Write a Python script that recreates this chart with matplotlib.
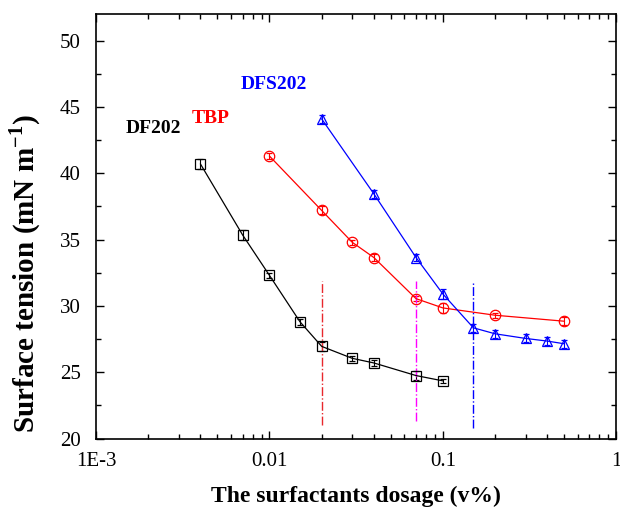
import numpy as np
import matplotlib
matplotlib.use("Agg")
from matplotlib import pyplot as plt
from matplotlib.ticker import FixedLocator, FixedFormatter, LogLocator, NullFormatter, MultipleLocator

# data
df202_x = [0.004, 0.007, 0.01, 0.015, 0.02, 0.03, 0.04, 0.07, 0.1]
df202_y = [40.7, 35.35, 32.3, 28.8, 26.95, 26.05, 25.7, 24.75, 24.35]
df202_err = [0.35, 0.35, 0.2, 0.2, 0.35, 0.2, 0.2, 0.35, 0.15]

tbp_x = [0.01, 0.02, 0.03, 0.04, 0.07, 0.1, 0.2, 0.5]
tbp_y = [41.3, 37.2, 34.8, 33.65, 30.55, 29.85, 29.3, 28.85]
tbp_err = [0.2, 0.3, 0.2, 0.25, 0.2, 0.4, 0.2, 0.3]

dfs202_x = [0.02, 0.04, 0.07, 0.1, 0.15, 0.2, 0.3, 0.4, 0.5]
dfs202_y = [44.1, 38.45, 33.65, 30.9, 28.35, 27.9, 27.55, 27.35, 27.15]
dfs202_err = [0.3, 0.3, 0.25, 0.35, 0.3, 0.3, 0.3, 0.3, 0.3]

# dash-dot markers of the break points: x, ymin, ymax, colour
cmc_x = [0.02, 0.07, 0.15]
cmc_lo = [21.0, 21.3, 20.8]
cmc_hi = [31.9, 31.9, 31.7]
cmc_col = ["#e8282d", "#ff00ff", "#0000ff"]

xticks = [0.001, 0.01, 0.1, 1]
xtick_labels = ["1E-3", "0.01", "0.1", "1"]

plt.rcParams["font.family"] = ["Liberation Serif", "DejaVu Serif"]
plt.rcParams["mathtext.fontset"] = "custom"
plt.rcParams["mathtext.rm"] = "Liberation Serif"
plt.rcParams["mathtext.bf"] = "Liberation Serif:bold"


def main():
	fig = plt.figure(figsize=(6.2, 5.07), dpi=100)
	ax = fig.add_axes([0.155, 0.135, 0.839, 0.837])

	series = [
		(df202_x, df202_y, df202_err, "black", "s", 7),
		(tbp_x, tbp_y, tbp_err, "red", "o", 7.5),
		(dfs202_x, dfs202_y, dfs202_err, "blue", "^", 7.5),
	]
	for x, y, e, c, m, ms in series:
		ax.errorbar(x, y, yerr=e, color=c, marker=m, markersize=ms,
			markerfacecolor="none", markeredgewidth=0.9, linewidth=0.9,
			capsize=2.5, elinewidth=0.8)

	for xv, lo, hi, c in zip(cmc_x, cmc_lo, cmc_hi, cmc_col):
		ax.plot([xv, xv], [lo, hi], color=c, linestyle="-.", linewidth=1.0)

	ax.text(0.00215, 43.4, "DF202", color="black", fontsize=14, fontweight="bold", ha="center", va="center")
	ax.text(0.0046, 44.15, "TBP", color="red", fontsize=14, fontweight="bold", ha="center", va="center")
	ax.text(0.0106, 46.7, "DFS202", color="blue", fontsize=14, fontweight="bold", ha="center", va="center")

	ax.set_xscale("log")
	ax.set_xlim(0.001, 1)
	ax.set_ylim(20, 52)
	ax.xaxis.set_major_locator(FixedLocator(xticks))
	ax.xaxis.set_major_formatter(FixedFormatter(xtick_labels))
	ax.xaxis.set_minor_locator(LogLocator(base=10, subs=np.arange(2, 10)))
	ax.xaxis.set_minor_formatter(NullFormatter())
	ax.yaxis.set_major_locator(MultipleLocator(5))
	ax.yaxis.set_minor_locator(MultipleLocator(2.5))

	ax.tick_params(which="both", direction="in", top=True, right=True, labelsize=15, width=1.0)
	ax.tick_params(which="major", length=6)
	ax.tick_params(axis="x", which="major", pad=10)
	ax.tick_params(axis="y", which="major", pad=11)
	ax.tick_params(which="minor", length=3.5)
	for sp in ax.spines.values():
		sp.set_linewidth(1.2)

	ax.set_xlabel("The surfactants dosage (v%)", fontsize=17, fontweight="bold", labelpad=10)
	ax.set_ylabel(r"Surface tension (mN m$^{\mathbf{-1}}$)", fontsize=21, fontweight="bold")
	ax.yaxis.set_label_coords(-0.103, 0.39)

	fig.savefig("out.png", dpi=100)


if __name__ == "__main__":
	main()
